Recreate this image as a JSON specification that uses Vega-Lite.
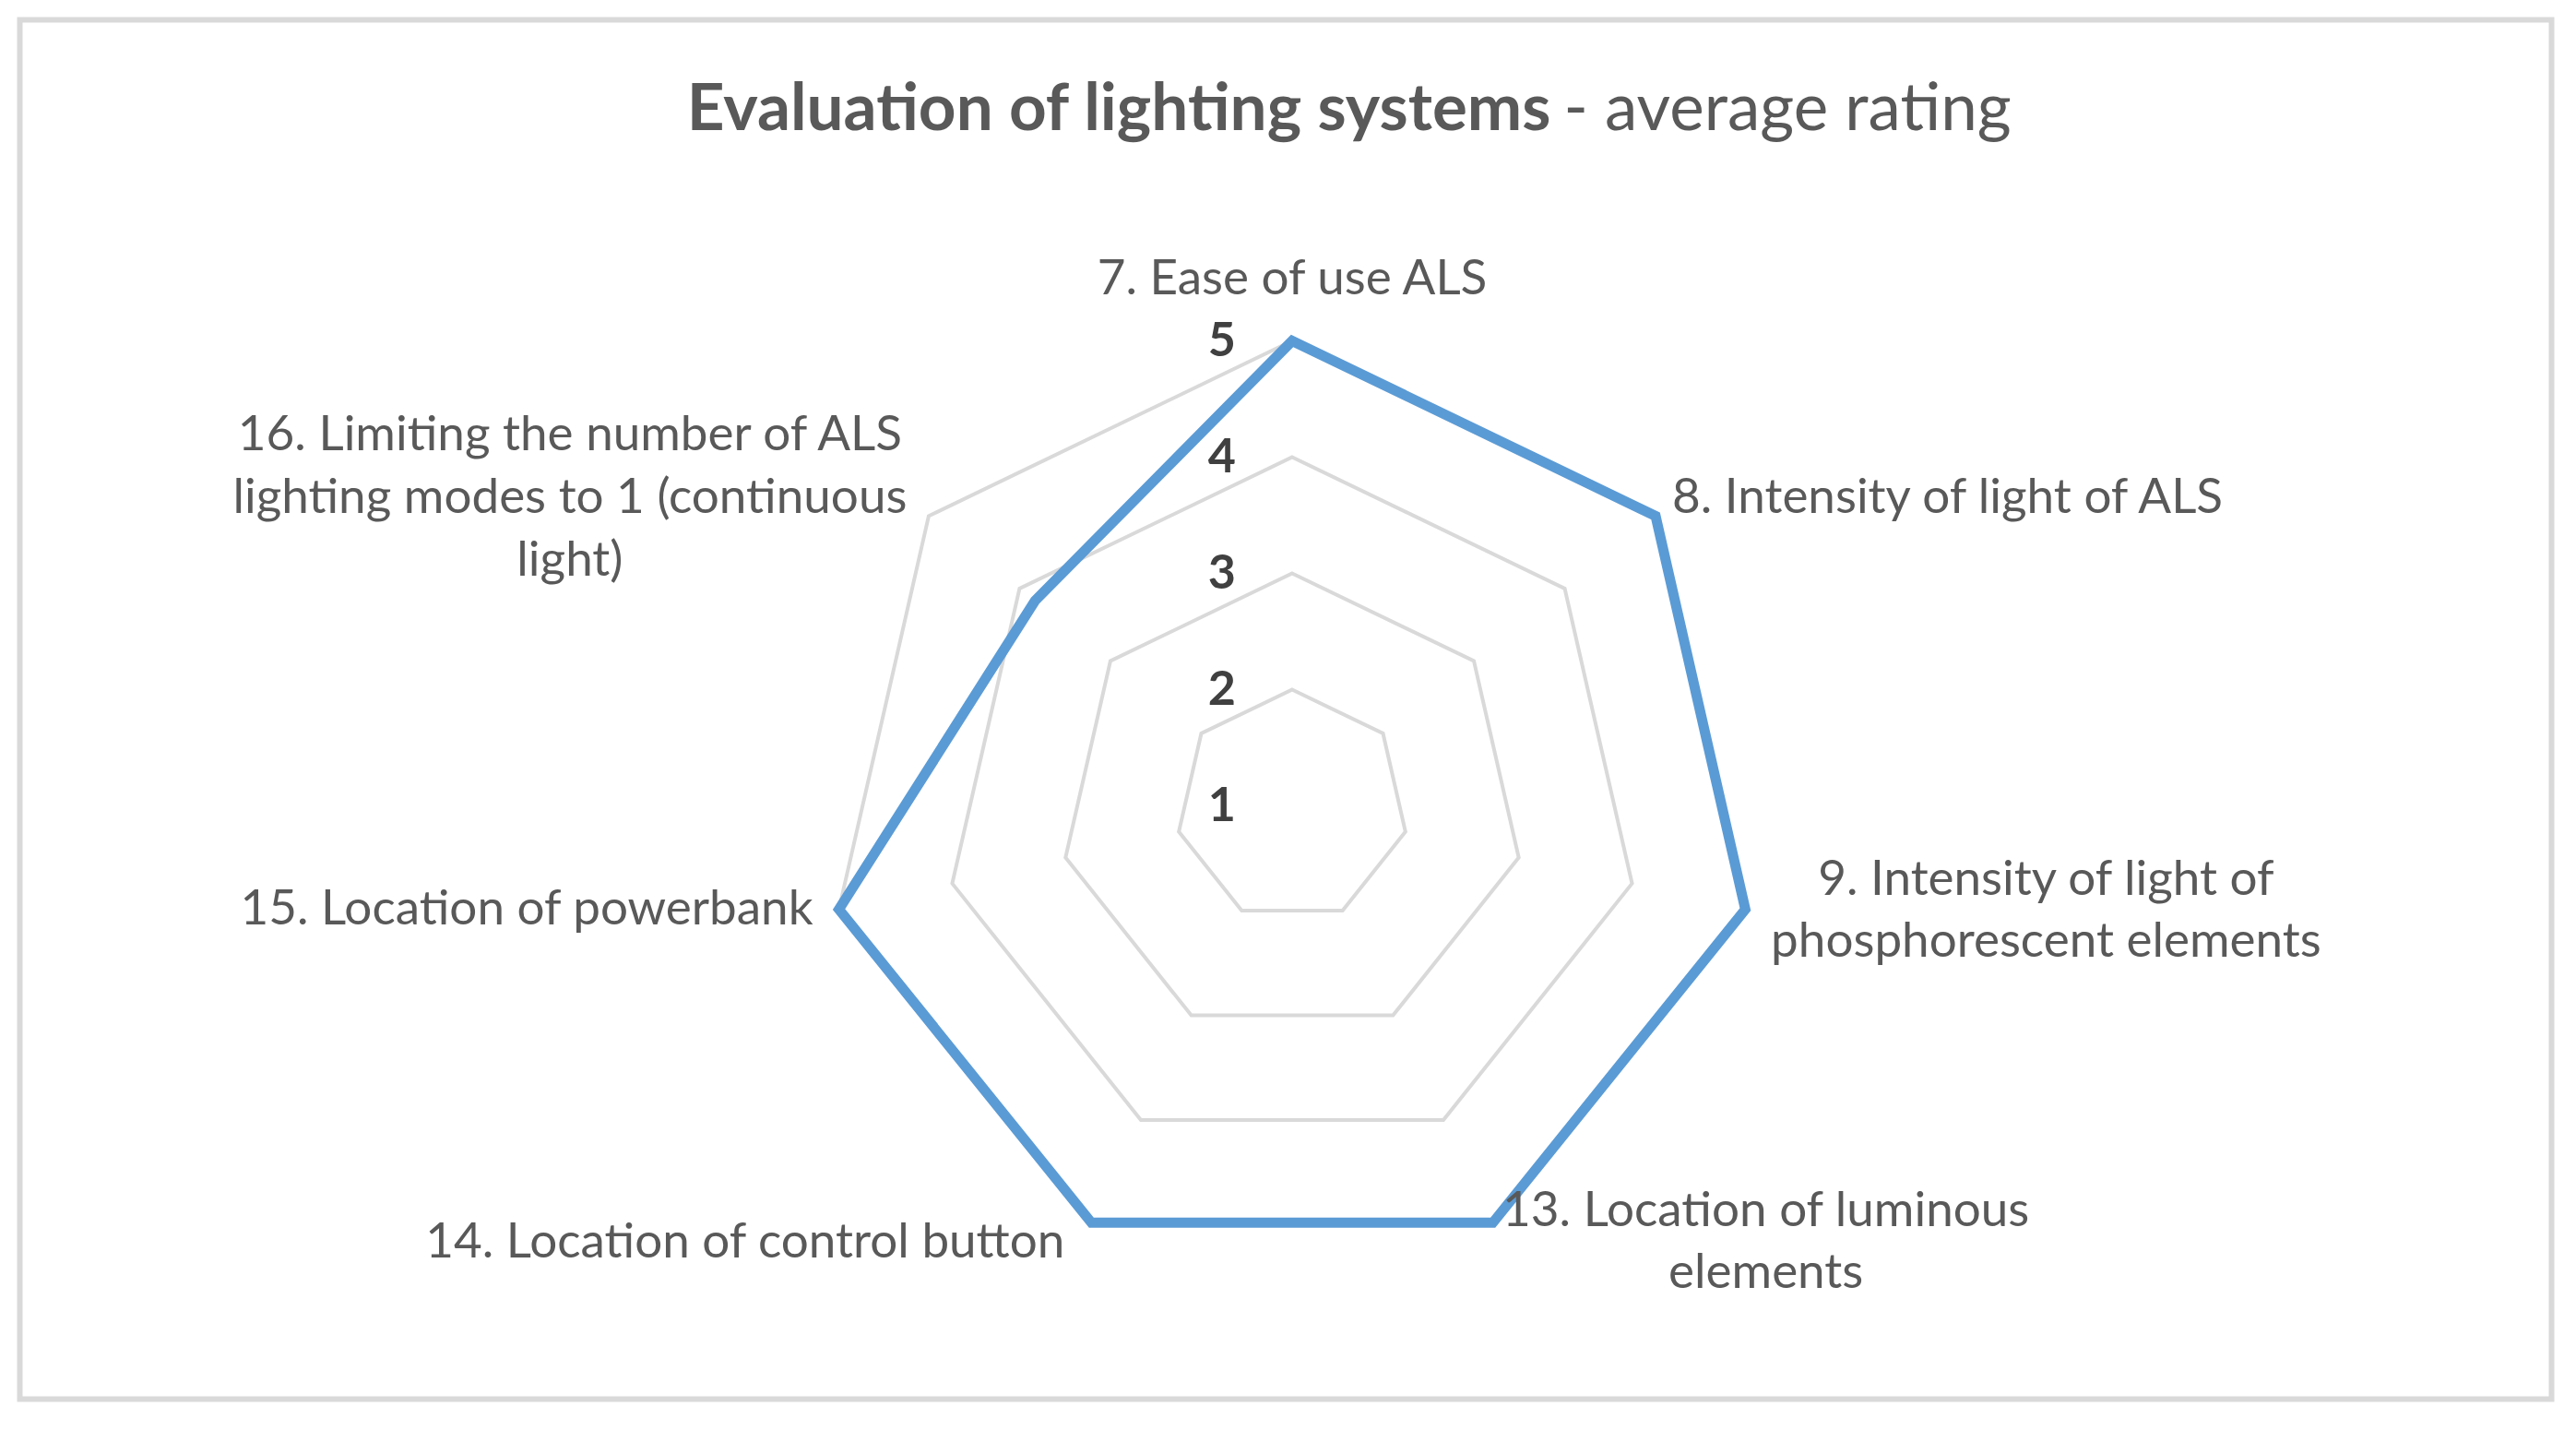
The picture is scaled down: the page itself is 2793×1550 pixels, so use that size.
{
  "$schema": "https://vega.github.io/schema/vega-lite/v6.json",
  "width": 2745,
  "height": 1495,
  "autosize": {"type": "none"},
  "padding": {"left": 21.5, "top": 21.5, "right": 26.5, "bottom": 33.5},
  "background": "white",
  "config": {
    "view": {"stroke": "#d9d9d9", "strokeWidth": 6},
    "text": {"font": "Lato"}
  },
  "datasets": {
    "ratings": [
      {"axis": 0, "item": "7. Ease of use ALS", "rating": 5},
      {"axis": 1, "item": "8. Intensity of light of ALS", "rating": 5},
      {"axis": 2, "item": "9. Intensity of light of\nphosphorescent elements", "rating": 5},
      {"axis": 3, "item": "13. Location of luminous\nelements", "rating": 4.98},
      {"axis": 4, "item": "14. Location of control button", "rating": 4.98},
      {"axis": 5, "item": "15. Location of powerbank", "rating": 5},
      {"axis": 6, "item": "16. Limiting the number of ALS\nlighting modes to 1 (continuous\nlight)", "rating": 3.83}
    ],
    "levels": [{"level": 1}, {"level": 2}, {"level": 3}, {"level": 4}, {"level": 5}]
  },
  "encoding": {
    "x": {
      "field": "x", "type": "quantitative",
      "scale": {"domain": [-10.948, 10.837], "nice": false, "zero": false},
      "axis": {
        "orient": "top", "labels": false, "ticks": false, "domain": false, "grid": false,
        "title": "- average rating", "titleX": 1673.5, "titleY": 119,
        "titleAlign": "left", "titleBaseline": "alphabetic", "titleAngle": 0,
        "titleFont": "Lato", "titleFontSize": 71, "titleFontWeight": "normal", "titleColor": "#595959"
      }
    },
    "y": {
      "field": "y", "type": "quantitative",
      "scale": {"domain": [-5.103, 6.762], "nice": false, "zero": false},
      "axis": {
        "labels": false, "ticks": false, "domain": false, "grid": false,
        "title": "Evaluation of lighting systems", "titleX": 1659.5, "titleY": 119,
        "titleAlign": "right", "titleBaseline": "alphabetic", "titleAngle": 0,
        "titleFont": "Lato", "titleFontSize": 71, "titleFontWeight": "bold", "titleColor": "#595959"
      }
    }
  },
  "layer": [
    {
      "data": {"name": "ratings"},
      "transform": [
        {"calculate": "[2, 3, 4, 5]", "as": "level"},
        {"flatten": ["level"]},
        {"calculate": "(datum.level - 1) * sin(2 * PI * datum.axis / 7)", "as": "x"},
        {"calculate": "(datum.level - 1) * cos(2 * PI * datum.axis / 7)", "as": "y"}
      ],
      "mark": {"type": "line", "interpolate": "linear-closed", "stroke": "#d9d9d9", "strokeWidth": 4},
      "encoding": {
        "detail": {"field": "level", "type": "nominal"},
        "order": {"field": "axis", "type": "quantitative"}
      }
    },
    {
      "data": {"name": "ratings"},
      "transform": [
        {"calculate": "(datum.rating - 1) * sin(2 * PI * datum.axis / 7)", "as": "x"},
        {"calculate": "(datum.rating - 1) * cos(2 * PI * datum.axis / 7)", "as": "y"}
      ],
      "mark": {"type": "line", "interpolate": "linear-closed", "stroke": "#5b9bd5", "strokeWidth": 11, "strokeJoin": "miter"},
      "encoding": {
        "order": {"field": "axis", "type": "quantitative"}
      }
    },
    {
      "data": {"name": "levels"},
      "transform": [
        {"calculate": "0", "as": "x"},
        {"calculate": "datum.level - 1", "as": "y"}
      ],
      "mark": {"type": "text", "align": "right", "baseline": "middle", "dx": -61, "font": "Lato", "fontSize": 52, "fontWeight": "bold", "color": "#404040"},
      "encoding": {"text": {"field": "level", "type": "quantitative"}}
    },
    {
      "data": {"name": "ratings"},
      "transform": [
        {"filter": "datum.axis == 0"},
        {"calculate": "4 * sin(2 * PI * datum.axis / 7)", "as": "x"},
        {"calculate": "4 * cos(2 * PI * datum.axis / 7)", "as": "y"}
      ],
      "mark": {"type": "text", "align": "center", "baseline": "middle", "dx": 0, "dy": -67, "lineBreak": "\n", "lineHeight": 67.7, "font": "Lato", "fontSize": 53, "color": "#595959"},
      "encoding": {"text": {"field": "item", "type": "nominal"}}
    },
    {
      "data": {"name": "ratings"},
      "transform": [
        {"filter": "datum.axis == 1"},
        {"calculate": "4 * sin(2 * PI * datum.axis / 7)", "as": "x"},
        {"calculate": "4 * cos(2 * PI * datum.axis / 7)", "as": "y"}
      ],
      "mark": {"type": "text", "align": "left", "baseline": "middle", "dx": 18, "dy": -19, "lineBreak": "\n", "lineHeight": 67.7, "font": "Lato", "fontSize": 53, "color": "#595959"},
      "encoding": {"text": {"field": "item", "type": "nominal"}}
    },
    {
      "data": {"name": "ratings"},
      "transform": [
        {"filter": "datum.axis == 2"},
        {"calculate": "4 * sin(2 * PI * datum.axis / 7)", "as": "x"},
        {"calculate": "4 * cos(2 * PI * datum.axis / 7)", "as": "y"}
      ],
      "mark": {"type": "text", "align": "center", "baseline": "middle", "dx": 326, "dy": -32, "lineBreak": "\n", "lineHeight": 67.7, "font": "Lato", "fontSize": 53, "color": "#595959"},
      "encoding": {"text": {"field": "item", "type": "nominal"}}
    },
    {
      "data": {"name": "ratings"},
      "transform": [
        {"filter": "datum.axis == 3"},
        {"calculate": "4 * sin(2 * PI * datum.axis / 7)", "as": "x"},
        {"calculate": "4 * cos(2 * PI * datum.axis / 7)", "as": "y"}
      ],
      "mark": {"type": "text", "align": "center", "baseline": "middle", "dx": 295, "dy": -15, "lineBreak": "\n", "lineHeight": 67.7, "font": "Lato", "fontSize": 53, "color": "#595959"},
      "encoding": {"text": {"field": "item", "type": "nominal"}}
    },
    {
      "data": {"name": "ratings"},
      "transform": [
        {"filter": "datum.axis == 4"},
        {"calculate": "4 * sin(2 * PI * datum.axis / 7)", "as": "x"},
        {"calculate": "4 * cos(2 * PI * datum.axis / 7)", "as": "y"}
      ],
      "mark": {"type": "text", "align": "right", "baseline": "middle", "dx": -28, "dy": 19, "lineBreak": "\n", "lineHeight": 67.7, "font": "Lato", "fontSize": 53, "color": "#595959"},
      "encoding": {"text": {"field": "item", "type": "nominal"}}
    },
    {
      "data": {"name": "ratings"},
      "transform": [
        {"filter": "datum.axis == 5"},
        {"calculate": "4 * sin(2 * PI * datum.axis / 7)", "as": "x"},
        {"calculate": "4 * cos(2 * PI * datum.axis / 7)", "as": "y"}
      ],
      "mark": {"type": "text", "align": "right", "baseline": "middle", "dx": -28, "dy": 0, "lineBreak": "\n", "lineHeight": 67.7, "font": "Lato", "fontSize": 53, "color": "#595959"},
      "encoding": {"text": {"field": "item", "type": "nominal"}}
    },
    {
      "data": {"name": "ratings"},
      "transform": [
        {"filter": "datum.axis == 6"},
        {"calculate": "4 * sin(2 * PI * datum.axis / 7)", "as": "x"},
        {"calculate": "4 * cos(2 * PI * datum.axis / 7)", "as": "y"}
      ],
      "mark": {"type": "text", "align": "center", "baseline": "middle", "dx": -389, "dy": -87, "lineBreak": "\n", "lineHeight": 67.7, "font": "Lato", "fontSize": 53, "color": "#595959"},
      "encoding": {"text": {"field": "item", "type": "nominal"}}
    }
  ]
}
